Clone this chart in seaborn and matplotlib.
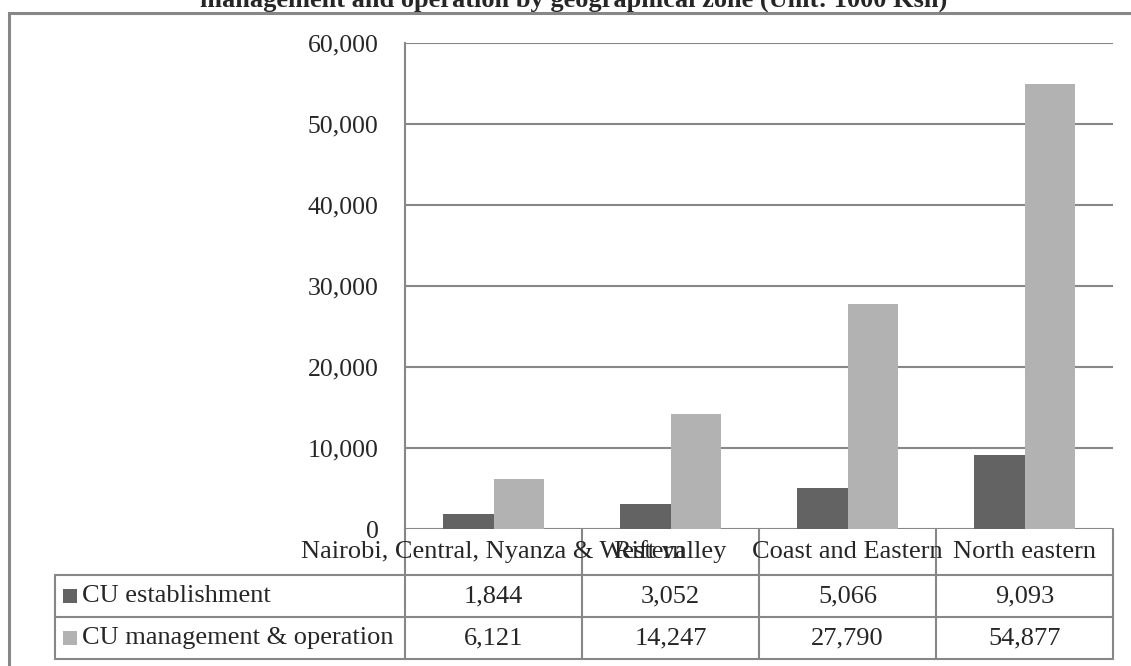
import matplotlib
matplotlib.use("Agg")
import matplotlib.pyplot as plt
import matplotlib.transforms as mtransforms
from matplotlib.patches import Rectangle
from matplotlib.ticker import FuncFormatter
import pandas as pd
import seaborn as sns

# Data
zones = ["Nairobi, Central, Nyanza & Western", "Rift valley", "Coast and Eastern", "North eastern"]
series_names = ["CU establishment", "CU management & operation"]
establishment = [1844, 3052, 5066, 9093]
management = [6121, 14247, 27790, 54877]
y_ticks = [0, 10000, 20000, 30000, 40000, 50000, 60000]
title = "management and operation by geographical zone (Unit: 1000 Ksh)"

colors = ["#636363", "#b2b2b2"]
grid_c = "#878787"
fs = 19

sns.set_theme(style="white")
plt.rcParams["font.family"] = ["Liberation Serif", "DejaVu Serif"]

W, H = 1131, 666
fig = plt.figure(figsize=(W / 100, H / 100), dpi=100)

# outer frame of the chart area
fig.patches.append(Rectangle((9 / W, -0.1), 1.2, 1 - 13 / H + 0.1, transform=fig.transFigure,
                             fill=False, edgecolor=grid_c, linewidth=2.2))

fig.text(574 / W, 1 - 7 / H, title, ha="center", va="baseline", fontsize=19,
         fontweight="bold")

left, right, top, bottom = 405, 1113, 43, 529
ax = fig.add_axes([left / W, 1 - bottom / H, (right - left) / W, (bottom - top) / H])

df = pd.DataFrame({
    "zone": zones * 2,
    "series": [series_names[0]] * 4 + [series_names[1]] * 4,
    "value": establishment + management,
})
sns.barplot(data=df, x="zone", y="value", hue="series", palette=colors, width=0.565,
            gap=0, linewidth=0, saturation=1, ax=ax, legend=False, zorder=3)

ax.set_xlim(-0.5, 3.5)
ax.set_ylim(0, 60000)
ax.set_yticks(y_ticks)
ax.yaxis.set_major_formatter(FuncFormatter(lambda v, p: f"{int(v):,}"))
ax.tick_params(axis="y", length=0, pad=19, labelsize=18.5)
ax.set_xticks([])
ax.set_xlabel("")
ax.set_ylabel("")
for name, s in ax.spines.items():
    if name == "left":
        s.set_color(grid_c)
        s.set_linewidth(1.5)
    else:
        s.set_visible(False)
ax.yaxis.grid(True, color=grid_c, linewidth=1.5, zorder=0)
ax.set_axisbelow(True)

# data table under the plot
ph = bottom - top
pw = right - left
r1 = -(575 - bottom) / ph
r2 = -(617 - bottom) / ph
r3 = -(659 - bottom) / ph
leg_x = -(left - 55) / pw
tr = mtransforms.blended_transform_factory(ax.transData, ax.transAxes)
line_kw = dict(color=grid_c, linewidth=1.5, clip_on=False)

for i in range(len(zones) + 1):
    ax.plot([i - 0.5, i - 0.5], [0, r3], transform=tr, **line_kw)
for yy in (r1, r2, r3):
    ax.plot([leg_x, 1], [yy, yy], transform=ax.transAxes, **line_kw)
ax.plot([leg_x, leg_x], [r1, r3], transform=ax.transAxes, **line_kw)

for i, z in enumerate(zones):
    ax.text(i, r1 / 2, z, transform=tr, ha="center", va="center", fontsize=fs)
    ax.text(i, (r1 + r2) / 2, f"{establishment[i]:,}", transform=tr, ha="center",
            va="center", fontsize=fs)
    ax.text(i, (r2 + r3) / 2, f"{management[i]:,}", transform=tr, ha="center",
            va="center", fontsize=fs)

for k, (name, yc) in enumerate(zip(series_names, [(r1 + r2) / 2, (r2 + r3) / 2])):
    sq = 14
    ax.add_patch(Rectangle((leg_x + 8 / pw, yc - sq / 2 / ph), sq / pw, sq / ph,
                           transform=ax.transAxes, facecolor=colors[k], edgecolor="none",
                           clip_on=False))
    ax.text(leg_x + 27 / pw, yc, name, transform=ax.transAxes, ha="left", va="center",
            fontsize=fs)

fig.savefig("out.png", dpi=100)
